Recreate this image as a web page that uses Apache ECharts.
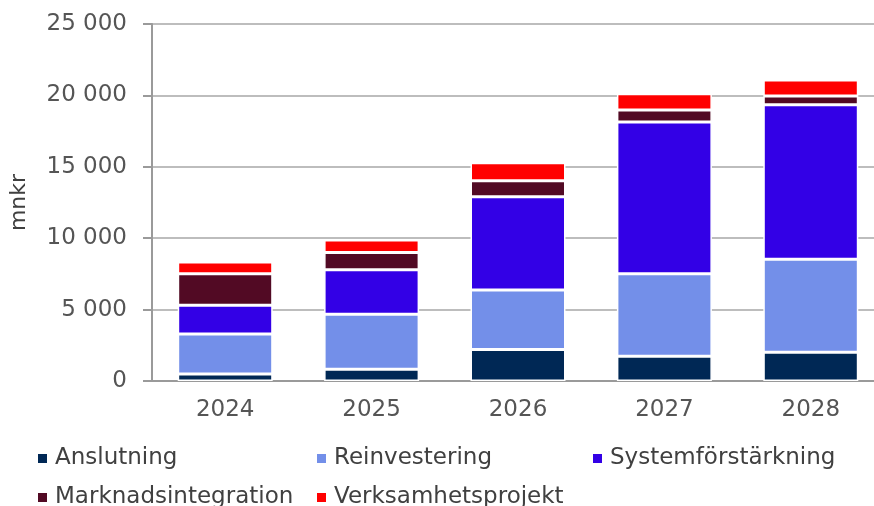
<!DOCTYPE html>
<html>
<head>
<meta charset="utf-8">
<style>
  html, body { margin: 0; padding: 0; background: #fff; }
  #chart { width: 874px; height: 506px; }
</style>
<script src="https://cdn.jsdelivr.net/npm/echarts@6/dist/echarts.min.js"></script>
</head>
<body>
<div id="chart"></div>
<script>
const years = ['2024', '2025', '2026', '2027', '2028']
const anslutning = [490, 820, 2200, 1730, 2020]
const reinvestering = [2810, 3850, 4170, 5780, 6510]
const systemforstarkning = [2000, 3120, 6540, 10630, 10820]
const marknadsintegration = [2210, 1210, 1110, 840, 610]
const verksamhetsprojekt = [820, 870, 1270, 1140, 1120]
const yTicks = [0, 5000, 10000, 15000, 20000, 25000]

const font = 'DejaVu Sans'
const chart = echarts.init(document.getElementById('chart'))

const seriesBase = {
  type: 'bar',
  stack: 'total',
  barWidth: 95,
  itemStyle: { borderColor: '#fff', borderWidth: 1.5 },
}

function fmt(v) {
  return String(v).replace(/\B(?=(\d{3})+(?!\d))/g, ' ')
}

function legendAt(name, left, top) {
  return {
    data: [name],
    left, top,
    itemWidth: 11,
    itemHeight: 11,
    itemGap: 0,
    icon: 'rect',
    textStyle: { color: '#404040', fontSize: 23, fontFamily: font, padding: [0, 0, 0, 2] },
  }
}

chart.setOption({
  backgroundColor: '#fff',
  animation: false,
  legend: [
    legendAt('Anslutning', 31, 442),
    legendAt('Reinvestering', 310, 442),
    legendAt('Systemförstärkning', 586, 442),
    legendAt('Marknadsintegration', 31, 481),
    legendAt('Verksamhetsprojekt', 310, 481),
  ],
  // the plot runs past the right edge of the picture, like the cropped original
  grid: { left: 152, top: 24, width: 732, height: 357, outerBoundsMode: 'none', containLabel: false },
  xAxis: {
    type: 'category',
    data: years,
    axisLine: { lineStyle: { color: '#9a9a9a', width: 2 } },
    axisTick: { length: 7, lineStyle: { color: '#9a9a9a', width: 2 } },
    axisLabel: { color: '#555', fontSize: 23, fontFamily: font, margin: 18 },
  },
  yAxis: {
    type: 'value',
    min: 0,
    max: 25000,
    interval: 5000,
    name: 'mnkr',
    nameLocation: 'middle',
    nameRotate: 90,
    nameGap: 122,
    nameTextStyle: { color: '#404040', fontSize: 22, fontFamily: font },
    axisLine: { show: true, lineStyle: { color: '#9a9a9a', width: 2 } },
    axisTick: { show: true, length: 9, lineStyle: { color: '#9a9a9a', width: 2 } },
    axisLabel: {
      color: '#555', fontSize: 23, fontFamily: font, margin: 25,
      formatter: v => yTicks.includes(v) ? fmt(v) : '',
    },
    splitLine: { lineStyle: { color: '#bdbdbd', width: 2 } },
  },
  series: [
    { ...seriesBase, name: 'Anslutning', data: anslutning, color: '#002855' },
    { ...seriesBase, name: 'Reinvestering', data: reinvestering, color: '#738fe9' },
    { ...seriesBase, name: 'Systemförstärkning', data: systemforstarkning, color: '#3300e6' },
    { ...seriesBase, name: 'Marknadsintegration', data: marknadsintegration, color: '#520a24' },
    { ...seriesBase, name: 'Verksamhetsprojekt', data: verksamhetsprojekt, color: '#ff0000' },
  ],
})
</script>
</body>
</html>
